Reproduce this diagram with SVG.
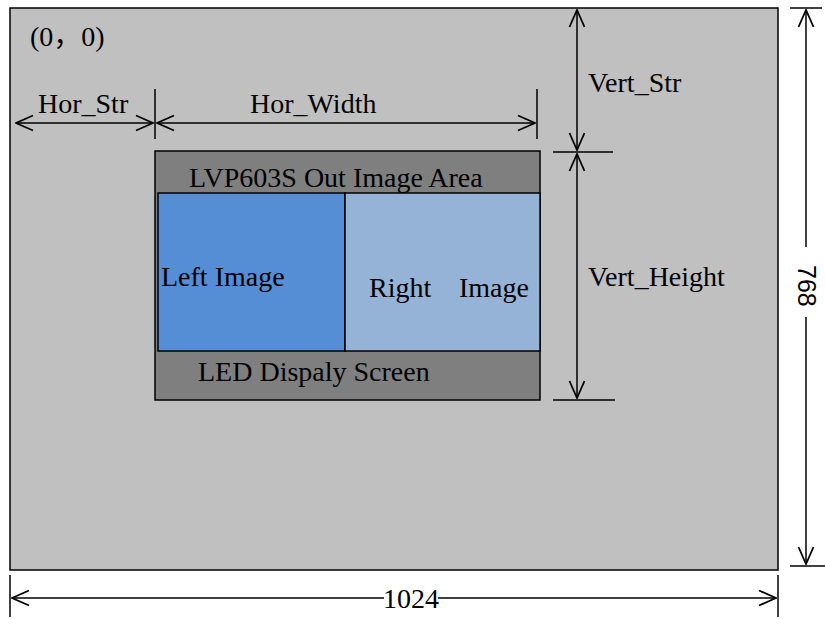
<svg xmlns="http://www.w3.org/2000/svg" width="825" height="619" viewBox="0 0 825 619">
<style>
.t{font-family:"Liberation Serif","Noto Sans CJK SC",serif;font-size:28px;fill:#000}
.s{font-family:"Liberation Sans",Arial,sans-serif;font-size:25px;fill:#000}
.ln{stroke:#000;stroke-width:1.5;fill:none}
.box{stroke:#000;stroke-width:1.5}
</style>
<defs>
<marker id="ah" viewBox="0 0 19 18" refX="18" refY="9" markerWidth="19" markerHeight="18" markerUnits="userSpaceOnUse" orient="auto-start-reverse">
<path d="M1,1.5 L18,9 L1,16.5" fill="none" stroke="#000" stroke-width="1.8"/>
</marker>
</defs>
<g id="screen">
<rect class="box" x="10" y="8" width="768" height="562" fill="#C0C0C0"/>
<text class="t" x="30" y="46">(0，0)</text>
</g>
<g id="out-area">
<rect class="box" x="155" y="151" width="385" height="249" fill="#7F7F7F"/>
<text class="t" x="189" y="187">LVP603S Out Image Area</text>
<text class="t" x="198" y="381">LED Dispaly Screen</text>
</g>
<g id="left-image">
<rect class="box" x="158" y="193" width="187" height="158" fill="#558ED5"/>
<text class="t" x="161" y="286">Left Image</text>
</g>
<g id="right-image">
<rect class="box" x="345" y="193" width="195" height="158" fill="#95B3D7"/>
<text class="t" y="297"><tspan x="369">Right</tspan><tspan x="459">Image</tspan></text>
</g>
<g id="connectors">
<line class="ln" x1="16" y1="123" x2="153" y2="123" marker-start="url(#ah)" marker-end="url(#ah)"/>
<line class="ln" x1="155" y1="89" x2="155" y2="139"/>
<line class="ln" x1="157" y1="123" x2="535" y2="123" marker-start="url(#ah)" marker-end="url(#ah)"/>
<line class="ln" x1="537" y1="89" x2="537" y2="139"/>
<line class="ln" x1="577" y1="10" x2="577" y2="150" marker-start="url(#ah)" marker-end="url(#ah)"/>
<line class="ln" x1="553" y1="152" x2="613" y2="152"/>
<line class="ln" x1="577" y1="154" x2="577" y2="398" marker-start="url(#ah)" marker-end="url(#ah)"/>
<line class="ln" x1="553" y1="400" x2="615" y2="400"/>
<line class="ln" x1="790" y1="8" x2="822" y2="8"/>
<line class="ln" x1="790" y1="566" x2="825" y2="566"/>
<line class="ln" x1="806" y1="10" x2="806" y2="247" marker-start="url(#ah)"/>
<line class="ln" x1="806" y1="317" x2="806" y2="564" marker-end="url(#ah)"/>
<line class="ln" x1="10" y1="575" x2="10" y2="617"/>
<line class="ln" x1="778" y1="575" x2="778" y2="617"/>
<line class="ln" x1="12" y1="598" x2="384" y2="598" marker-start="url(#ah)"/>
<line class="ln" x1="438" y1="598" x2="776" y2="598" marker-end="url(#ah)"/>
</g>
<g id="labels">
<text class="t" x="38" y="113">Hor_Str</text>
<text class="t" x="250" y="113">Hor_Width</text>
<text class="t" x="588" y="92">Vert_Str</text>
<text class="t" x="588" y="286">Vert_Height</text>
<text class="t" x="411" y="608" text-anchor="middle">1024</text>
<text class="s" transform="translate(798,265) rotate(90)">768</text>
</g>
</svg>
